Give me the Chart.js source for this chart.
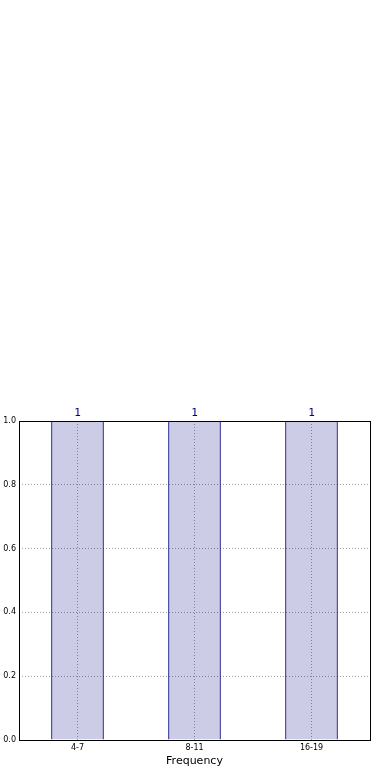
<!DOCTYPE html>
<html>
<head>
<meta charset="utf-8">
<script src="https://cdn.jsdelivr.net/npm/chart.js@4/dist/chart.umd.min.js"></script>
<style>
    html, body { margin: 0; padding: 0; background: #fff; }
    #wrap { width: 390px; height: 780px; }
</style>
</head>
<body>
<div id="wrap"><canvas id="freqChart"></canvas></div>
<script>
const categories = ['4-7', '8-11', '16-19'];
const counts = [1, 1, 1];
const yTicks = [0.0, 0.2, 0.4, 0.6, 0.8, 1.0];

// draws the count above each bar
const valueLabels = {
    id: 'valueLabels',
    afterDatasetsDraw(chart) {
        const ctx = chart.ctx;
        const meta = chart.getDatasetMeta(0);
        ctx.save();
        ctx.fillStyle = '#00008b';
        ctx.font = '11px "DejaVu Sans Mono"';
        ctx.textAlign = 'center';
        ctx.textBaseline = 'bottom';
        meta.data.forEach((bar, i) => {
            ctx.fillText(String(counts[i]), bar.x, bar.y - 2);
        });
        ctx.restore();
    }
};

// full box around the plot area
const frame = {
    id: 'frame',
    afterDraw(chart) {
        const a = chart.chartArea;
        const ctx = chart.ctx;
        ctx.save();
        ctx.strokeStyle = '#000';
        ctx.lineWidth = 1;
        ctx.strokeRect(Math.round(a.left) + 0.5, Math.round(a.top) + 0.5,
            Math.round(a.right - a.left), Math.round(a.bottom - a.top));
        ctx.restore();
    }
};

window.onload = function() {
    const ctx = document.getElementById('freqChart').getContext('2d');
    new Chart(ctx, {
        type: 'bar',
        data: {
            labels: categories,
            datasets: [{
                data: counts,
                backgroundColor: 'rgba(0,0,128,0.2)',
                borderColor: '#000080',
                borderWidth: 1,
                barPercentage: 0.45,
                categoryPercentage: 1.0
            }]
        },
        options: {
            responsive: true,
            maintainAspectRatio: false,
            animation: false,
            layout: { padding: { top: 421, right: 20, left: 0, bottom: 12 } },
            plugins: {
                legend: { display: false },
                tooltip: { enabled: false }
            },
            scales: {
                x: {
                    z: 1,
                    offset: true,
                    grid: {
                        offset: false,
                        color: '#a0a0a0',
                        lineWidth: 1,
                        drawTicks: false
                    },
                    border: { display: false, dash: [1, 2] },
                    ticks: {
                        color: '#000',
                        font: { family: 'DejaVu Sans', size: 8 },
                        padding: 3,
                        maxRotation: 0
                    },
                    title: {
                        display: true,
                        text: 'Frequency',
                        color: '#000',
                        font: { family: 'DejaVu Sans', size: 11 },
                        padding: { top: 1, bottom: 0 }
                    },
                    afterFit(scale) { scale.height = 28; }
                },
                y: {
                    z: 1,
                    min: 0,
                    max: 1,
                    afterBuildTicks(scale) {
                        scale.ticks = yTicks.map(v => ({ value: v }));
                    },
                    grid: {
                        color: '#a0a0a0',
                        lineWidth: 1,
                        drawTicks: false
                    },
                    border: { display: false, dash: [1, 2] },
                    ticks: {
                        color: '#000',
                        font: { family: 'DejaVu Sans', size: 8 },
                        padding: 3,
                        callback: v => v.toFixed(1)
                    },
                    afterFit(scale) { scale.width = 19; }
                }
            }
        },
        plugins: [valueLabels, frame]
    });
};
</script>
</body>
</html>
